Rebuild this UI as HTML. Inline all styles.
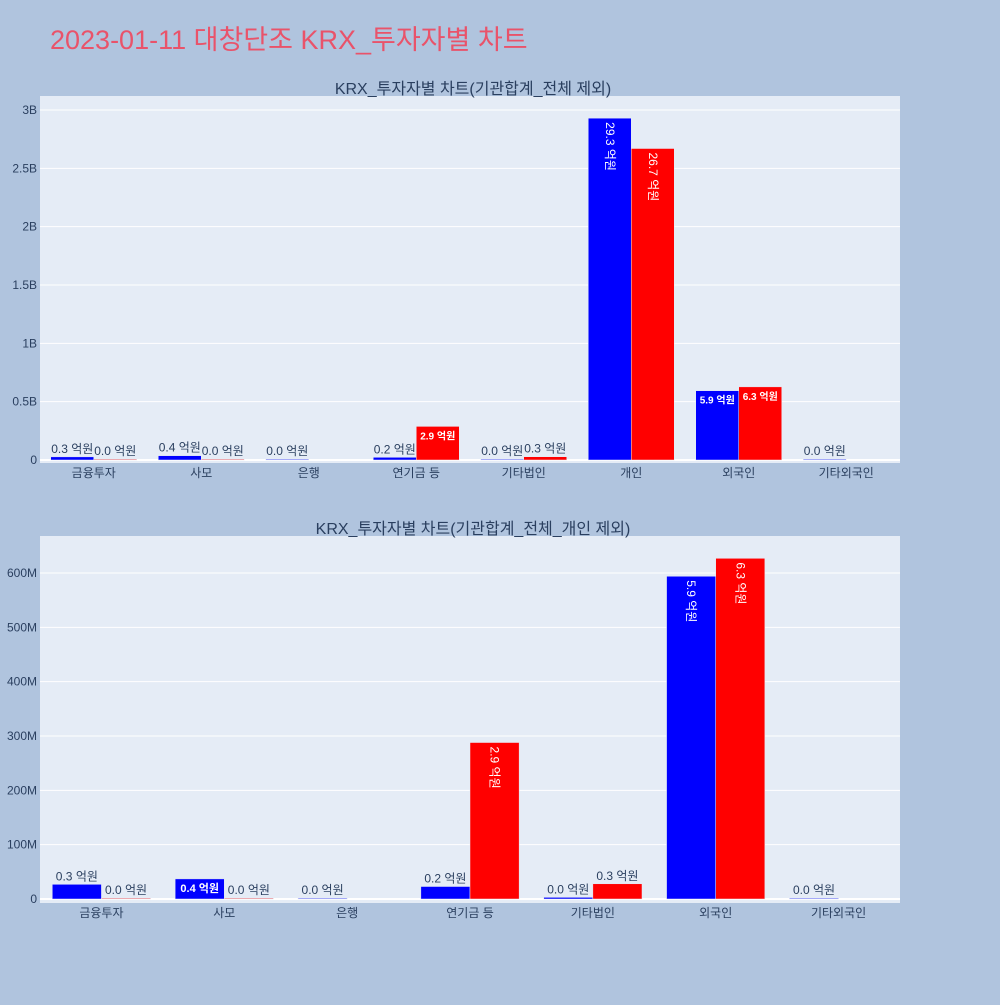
<!DOCTYPE html>
<html><head><meta charset="utf-8"><style>
body{margin:0;background:#b0c4de;font-family:"Liberation Sans","Noto Sans CJK KR",sans-serif}
svg text{font-family:"Liberation Sans","Noto Sans CJK KR",sans-serif}
</style></head><body>
<svg id="s" width="1000" height="1000" xmlns="http://www.w3.org/2000/svg">
<rect width="1000" height="1000" fill="#b0c4de"/>
<text x="50" y="49" font-size="27" fill="#e9536a">2023-01-11 대창단조 KRX_투자자별 차트</text>
</svg>
<script>
const cats1=["금융투자","사모","은행","연기금 등","기타법인","개인","외국인","기타외국인"];
const blue1=[27,37,1,23,3,2930,594,1];
const red1=[1,1,null,288,28,2670,627,null];
const cats2=["금융투자","사모","은행","연기금 등","기타법인","외국인","기타외국인"];
const blue2=[27,37,1,23,3,594,1];
const red2=[1,1,null,288,28,627,null];
const ticks1=[0,500,1000,1500,2000,2500,3000];
const tickLabels1=["0","0.5B","1B","1.5B","2B","2.5B","3B"];
const ticks2=[0,100,200,300,400,500,600];
const tickLabels2=["0","100M","200M","300M","400M","500M","600M"];
const NS="http://www.w3.org/2000/svg";
const svg=document.getElementById('s');
function mk(tag,attrs,parent){const e=document.createElementNS(NS,tag);for(const k in attrs)e.setAttribute(k,attrs[k]);(parent||svg).appendChild(e);return e;}
function panel(cfg){
  const {top,bottom,zeroY,maxV,maxY,cats,blue,red,ticks,labels,title,name}=cfg;
  const L=40,R=900;
  const g=mk('g',{});
  
  
  const bg=mk('rect',{x:L,y:top,width:R-L,height:bottom-top,fill:'#e5ecf6'},g);
  
  
  const y=v=>zeroY-(v/maxV)*(zeroY-maxY);
  ticks.forEach((t,i)=>{
    const gl=mk('line',{x1:L,x2:R,y1:y(t),y2:y(t),stroke:'#fff','stroke-width':t===0?2:1},g);
    
    
    const tl=mk('text',{x:L-3,y:y(t)+4,'font-size':12,fill:'#2a3f5f','text-anchor':'end'},g);
    tl.textContent=labels[i];
    
    
  });
  const cw=(R-L)/cats.length, bw=cw*0.8/2;
  const x=i=>L+cw*(i+0.5);
  cats.forEach((c,i)=>{
    const cl=mk('text',{x:x(i),y:bottom+14,'font-size':12,fill:'#2a3f5f','text-anchor':'middle'},g);
    cl.textContent=c;
    
    
    [[blue,'#0000ff',-1],[red,'#ff0000',0]].forEach(([arr,col,off])=>{
      const v=arr[i]; if(v==null)return;
      const bx=x(i)+off*bw, by=y(v), bh=Math.max(zeroY-by,0.8);
      const r=mk('rect',{x:bx,y:zeroY-bh,width:bw,height:bh,fill:col,stroke:'#e5ecf6','stroke-width':0.5},g);
      
      
      const txt=(v/100).toFixed(1)+' 억원';
      let t;
      if(bh>90){
        t=mk('text',{x:0,y:0,'font-size':12,fill:'#fff','transform':`translate(${bx+bw/2-4},${zeroY-bh+4}) rotate(90)`},g);
      }else if(bh>16){
        t=mk('text',{x:bx+bw/2,y:zeroY-bh+13,'font-size':bw<45?10:11,'font-weight':'bold',fill:'#fff','text-anchor':'middle'},g);
      }else{
        t=mk('text',{x:bx+bw/2,y:zeroY-bh-4,'font-size':12,fill:'#2a3f5f','text-anchor':'middle'},g);
      }
      t.textContent=txt;
      
      
    });
  });
  const tt=mk('text',{x:473,y:top-2,'font-size':16,fill:'#2a3f5f','text-anchor':'middle'},g);
  tt.textContent=title;
  
  
}
panel({top:96,bottom:463,zeroY:460,maxV:3000,maxY:110,cats:cats1,blue:blue1,red:red1,ticks:ticks1,labels:tickLabels1,title:"KRX_투자자별 차트(기관합계_전체 제외)",name:"chart-top"});
panel({top:536,bottom:903,zeroY:899,maxV:600,maxY:573,cats:cats2,blue:blue2,red:red2,ticks:ticks2,labels:tickLabels2,title:"KRX_투자자별 차트(기관합계_전체_개인 제외)",name:"chart-bottom"});
</script>
</body></html>
